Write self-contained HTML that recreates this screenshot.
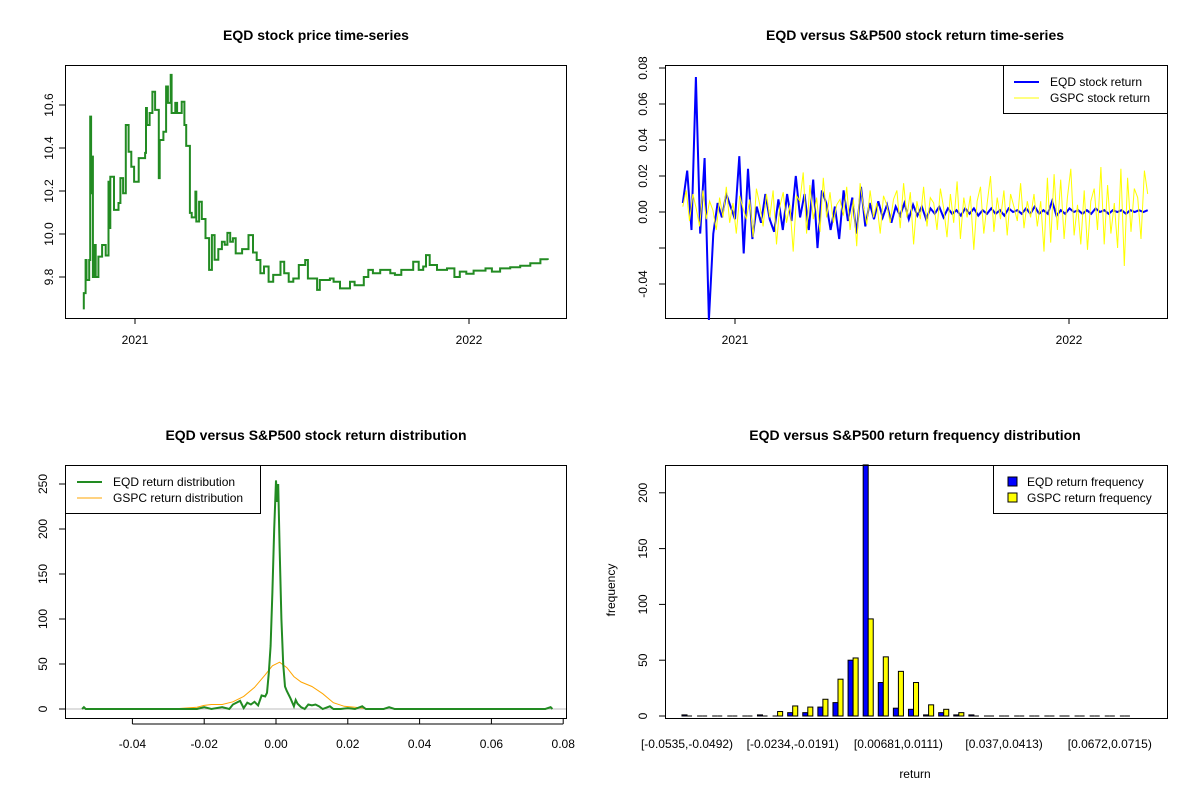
<!DOCTYPE html>
<html><head><meta charset="utf-8"><style>
body{margin:0;background:#fff;}
svg{display:block;font-family:"Liberation Sans",Arial,sans-serif;}
</style></head><body>
<svg id="s" width="1200" height="800" viewBox="0 0 1200 800"></svg>
<script>
// ---------- data ----------
const priceDays=[-57,-56,-54,-53,-50,-49,-48,-47,-46,-44,-43,-40,-36,-32,-29,-28,-27,-23,-18,-16,-13,-10,-7,-4,-1,4,11,12,13,16,19,22,26,27,31,34,36,39,40,44,46,51,54,56,60,62,66,67,70,73,77,81,84,87,91,95,98,101,104,107,110,117,124,129,133,137,141,146,151,159,163,168,173,179,186,189,199,202,213,217,224,235,240,250,255,260,268,279,284,291,299,304,310,315,318,322,330,341,349,355,362,370,383,390,399,410,421,432,443,451];
const priceVals=[9.654,9.725,9.879,9.786,9.879,10.546,10.19,10.36,9.80,9.949,9.80,9.895,9.949,9.90,10.243,10.028,10.266,10.112,10.144,10.26,10.19,10.507,10.383,10.313,10.243,10.353,10.377,10.586,10.507,10.563,10.662,10.577,10.26,10.437,10.476,10.686,10.61,10.74,10.563,10.61,10.563,10.615,10.507,10.41,10.098,10.077,10.197,10.058,10.15,10.07,9.981,9.833,9.995,9.88,9.93,9.964,9.95,10.005,9.964,9.98,9.91,9.93,9.995,9.914,9.879,9.817,9.849,9.778,9.81,9.871,9.817,9.778,9.793,9.856,9.879,9.793,9.74,9.786,9.793,9.778,9.747,9.778,9.762,9.80,9.833,9.817,9.833,9.817,9.81,9.833,9.833,9.871,9.833,9.849,9.902,9.856,9.833,9.84,9.80,9.825,9.815,9.83,9.84,9.825,9.84,9.845,9.852,9.864,9.883,9.879];
const eqdRet=[0.005,0.023,-0.01,0.075,-0.012,0.03,-0.06,-0.012,0.005,-0.003,0.01,0.003,-0.004,0.031,-0.023,0.024,-0.015,0.003,-0.006,0.01,-0.004,-0.011,0.007,-0.01,0.01,-0.005,0.02,-0.003,0.01,-0.01,0.018,-0.02,0.012,0.005,-0.01,0.003,-0.015,0.012,-0.005,0.008,-0.012,0.014,-0.008,0.005,-0.004,0.006,-0.003,0.004,-0.006,0.003,-0.002,0.005,-0.004,0.004,-0.002,0.003,-0.004,0.002,-0.001,0.003,-0.003,0.002,-0.001,0.001,-0.002,0.002,-0.001,0.002,-0.002,0.001,-0.001,0.002,-0.001,0.001,-0.002,0.002,0.0,0.001,-0.001,0.002,-0.001,0.003,-0.001,0.001,-0.001,0.006,-0.002,0.001,-0.001,0.002,0.0,0.001,-0.001,0.001,-0.001,0.002,0.0,0.001,-0.001,0.001,0.0,0.001,-0.001,0.001,0.0,0.001,0.0,0.001];
const gspcRet=[0.003,0.012,-0.005,0.010,0.002,-0.008,0.012,-0.004,0.006,0.001,-0.010,0.008,-0.003,0.014,-0.006,0.005,-0.012,0.009,0.002,-0.004,0.007,-0.014,0.013,0.004,-0.008,0.010,-0.003,0.012,-0.018,0.003,0.011,-0.006,0.004,-0.022,0.009,0.006,0.022,-0.012,0.015,-0.004,0.008,-0.011,0.019,-0.003,0.011,-0.006,0.004,0.007,-0.002,0.014,-0.010,0.007,-0.019,0.016,0.003,-0.007,0.012,-0.003,0.005,-0.012,0.009,0.004,-0.006,0.007,0.012,-0.009,0.016,-0.003,0.011,-0.018,0.006,-0.004,0.014,-0.008,0.008,0.005,-0.010,0.013,0.002,-0.014,0.010,-0.006,0.017,-0.015,0.008,-0.003,0.009,-0.021,0.006,0.014,-0.012,0.005,0.020,-0.011,0.008,-0.004,0.012,-0.013,0.010,0.003,-0.005,0.016,-0.009,0.006,-0.003,0.010,-0.008,0.006,-0.022,0.019,-0.017,0.021,-0.010,0.018,-0.015,0.008,0.024,-0.013,0.004,-0.018,0.012,-0.021,0.006,0.013,-0.010,0.025,-0.018,0.015,-0.012,0.005,-0.020,0.024,-0.030,0.019,-0.011,0.013,0.008,-0.015,0.023,0.010];
const eqdDensX=[-0.054,-0.0535,-0.053,-0.032,-0.022,-0.02,-0.018,-0.015,-0.013,-0.012,-0.010,-0.009,-0.008,-0.007,-0.006,-0.005,-0.004,-0.003,-0.0025,-0.002,-0.0015,-0.001,-0.0005,0,0.0003,0.0006,0.001,0.0015,0.002,0.0025,0.003,0.004,0.005,0.0055,0.006,0.007,0.008,0.009,0.01,0.011,0.012,0.013,0.015,0.016,0.018,0.02,0.022,0.024,0.025,0.03,0.0315,0.033,0.075,0.0765,0.077];
const eqdDensY=[0,2,0,0,0,2,0,2,0,5,9,1,7,5,8,4,15,14,18,40,70,130,200,254,230,250,180,100,50,25,20,12,3,10,6,2,0,5,4,5,3,0,3,0,0,1,0,3,0,0,2,0,0,2,0];
const gspcDensX=[-0.032,-0.027,-0.022,-0.02,-0.018,-0.015,-0.012,-0.009,-0.006,-0.003,-0.001,0.001,0.003,0.005,0.007,0.01,0.013,0.016,0.019,0.022,0.025,0.028];
const gspcDensY=[0,0.5,2,4,5,5,8,14,24,38,48,52,46,36,30,25,17,7,3,2,0.5,0];
const binLabels=["[-0.0535,-0.0492)","[-0.0234,-0.0191)","[0.00681,0.0111)","[0.037,0.0413)","[0.0672,0.0715)"];
const binLabelIdx=[0,7,14,21,28];
const eqdFreq=[1,0,0,0,0,1,0,3,3,8,12,50,240,30,7,6,1,3,1,1,0,0,0,0,0,0,0,0,0,0];
const gspcFreq=[0,0,0,0,0,0,4,9,8,15,33,52,87,53,40,30,10,6,3,0,0,0,0,0,0,0,0,0,0,0];
const priceTicks=[9.8,10.0,10.2,10.4,10.6];
const retTicks=[-0.04,-0.02,0.00,0.02,0.04,0.06,0.08];
const densYTicks=[0,50,100,150,200,250];
const densXTicks=[-0.04,-0.02,0.00,0.02,0.04,0.06,0.08];
const freqTicks=[0,50,100,150,200];

// ---------- helpers ----------
const S=document.getElementById('s');const NS='http://www.w3.org/2000/svg';
function mk(tag,at,parent){const e=document.createElementNS(NS,tag);for(const k in at)e.setAttribute(k,at[k]);(parent||S).appendChild(e);return e;}
function txt(x,y,s,o){o=o||{};const e=mk('text',{x:x,y:y,'font-size':o.fs||12,'text-anchor':o.a||'middle',fill:'#000'});if(o.b)e.setAttribute('font-weight','bold');if(o.rot)e.setAttribute('transform','rotate(-90 '+x+' '+y+')');e.textContent=s;return e;}
function box(x0,y0,x1,y1){return mk('rect',{x:x0,y:y0,width:x1-x0,height:y1-y0,fill:'none',stroke:'#000','stroke-width':1});}
function line(x1,y1,x2,y2,c,w){return mk('line',{x1:x1,y1:y1,x2:x2,y2:y2,stroke:c||'#000','stroke-width':w||1});}
function poly(pts,c,w){return mk('polyline',{points:pts.map(p=>p[0].toFixed(1)+','+p[1].toFixed(1)).join(' '),fill:'none',stroke:c,'stroke-width':w,'stroke-linejoin':'miter'});}
function steps(pts){const o=[];pts.forEach((p,i)=>{if(i>0)o.push([p[0],pts[i-1][1]]);o.push(p);});return o;}

// ---------- panel 1 ----------
{const xD=d=>135+d*334/365, yP=v=>277-(v-9.8)*215;
let t=txt(316,40,'EQD stock price time-series',{fs:14,b:1});
let b=box(65.5,65.5,566.5,318.5);
priceTicks.forEach(v=>{line(59,yP(v),65,yP(v));let l=txt(53,yP(v),v.toFixed(1),{rot:1});});
[[0,'2021'],[365,'2022']].forEach(([d,s])=>{line(xD(d),318,xD(d),324);let l=txt(xD(d),344,s);});
const pts=[];priceDays.forEach((d,i)=>pts.push([xD(d),yP(priceVals[i])]));
let p=poly(steps(pts),'#228B22',2);}

// ---------- panel 2 ----------
{const xD=d=>735+d*334/365, yR=v=>212-v*1800;
let t=txt(915,40,'EQD versus S&P500 stock return time-series',{fs:14,b:1});
let b=box(665.5,65.5,1167.5,318.5);
retTicks.forEach(v=>{line(659,yR(v),665,yR(v));});
retTicks.filter(v=>v!==-0.02).forEach(v=>{let l=txt(647,yR(v),v.toFixed(2),{rot:1});});
[[0,'2021'],[365,'2022']].forEach(([d,s])=>{line(xD(d),318,xD(d),324);let l=txt(xD(d),344,s);});
const d0=-57,d1=451;
const pe=eqdRet.map((v,i)=>[xD(d0+(d1-d0)*i/(eqdRet.length-1)),yR(v)]);
let p=poly(pe,'#0000FF',2);
const pg=gspcRet.map((v,i)=>[xD(d0+(d1-d0)*i/(gspcRet.length-1)),yR(v)]);
p=poly(pg,'#FFFF00',1);
const g=mk('g',{});
mk('rect',{x:1003.5,y:65.5,width:164,height:48,fill:'#fff',stroke:'#000'},g);
mk('line',{x1:1014,y1:82,x2:1039,y2:82,stroke:'#0000FF','stroke-width':2},g);
mk('line',{x1:1014,y1:98,x2:1039,y2:98,stroke:'#FFFF00','stroke-width':1},g);
g.appendChild(txt(1050,86,'EQD stock return',{a:'start'}));g.appendChild(txt(1050,102,'GSPC stock return',{a:'start'}));}

// ---------- panel 3 ----------
{const xV=v=>276+v*3590, yV=v=>709-v*0.9;
let t=txt(316,440,'EQD versus S&P500 stock return distribution',{fs:14,b:1});
let b=box(65.5,465.5,566.5,718.5);
densYTicks.forEach(v=>{line(59,yV(v),65,yV(v));let l=txt(47,yV(v),String(v),{rot:1});});
densXTicks.forEach(v=>{line(xV(v),718,xV(v),724);let l=txt(xV(v),748,v.toFixed(2));});
line(xV(-0.04),724,xV(0.08),724);
let z=line(66,709,566,709,'#BEBEBE',1);
let p=poly(gspcDensX.map((x,i)=>[xV(x),yV(gspcDensY[i])]),'#FFA500',1);
p=poly(eqdDensX.map((x,i)=>[xV(x),yV(eqdDensY[i])]),'#228B22',2);
const g=mk('g',{});
mk('rect',{x:65.5,y:465.5,width:195,height:48,fill:'#fff',stroke:'#000'},g);
mk('line',{x1:77,y1:482,x2:102,y2:482,stroke:'#228B22','stroke-width':2},g);
mk('line',{x1:77,y1:498,x2:102,y2:498,stroke:'#FFA500','stroke-width':1},g);
g.appendChild(txt(113,486,'EQD return distribution',{a:'start'}));g.appendChild(txt(113,502,'GSPC return distribution',{a:'start'}));}

// ---------- panel 4 ----------
{const yF=v=>716-Math.min(v,225)*1.116, w=15.1/3, x0=687-2*w;
let t=txt(915,440,'EQD versus S&P500 return frequency distribution',{fs:14,b:1});
freqTicks.forEach(v=>{line(659,yF(v),665,yF(v));let l=txt(647,yF(v),String(v),{rot:1});});
function bar(xs,v,fill,name){
 if(v<=0){let r=line(xs,yF(0),xs+w,yF(0),'#000',1);return;}
 let r=mk('rect',{x:xs,y:yF(v),width:w,height:yF(0)-yF(v),fill:fill,stroke:'#000','stroke-width':1});}
eqdFreq.forEach((v,i)=>{const xs=x0+(3*i+1)*w;
 bar(xs,v,'#0000FF','eqd-freq-bar');
 bar(xs+w,gspcFreq[i],'#FFFF00','gspc-freq-bar');});
binLabelIdx.forEach((bi,k)=>{let l=txt(x0+(3*bi+2)*w,748,binLabels[k]);});
let b=box(665.5,465.5,1167.5,718.5);
let l=txt(615,590,'frequency',{rot:1});
l=txt(915,778,'return');
const g=mk('g',{});
mk('rect',{x:993.5,y:465.5,width:174,height:48,fill:'#fff',stroke:'#000'},g);
mk('rect',{x:1008,y:477,width:9,height:9,fill:'#0000FF',stroke:'#000'},g);
mk('rect',{x:1008,y:493,width:9,height:9,fill:'#FFFF00',stroke:'#000'},g);
g.appendChild(txt(1027,486,'EQD return frequency',{a:'start'}));g.appendChild(txt(1027,502,'GSPC return frequency',{a:'start'}));}
</script>
</body></html>
